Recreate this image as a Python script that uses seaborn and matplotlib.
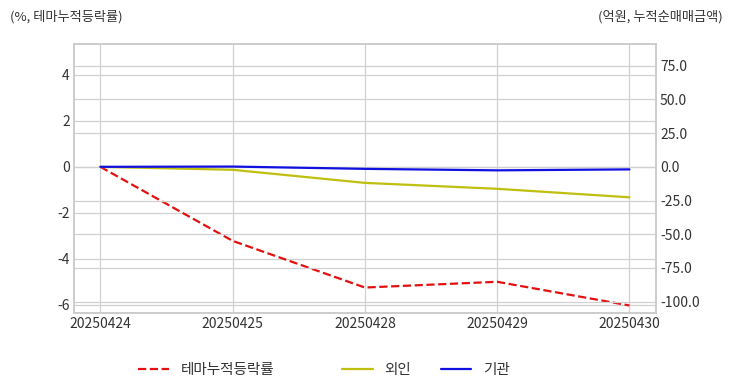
import numpy as np
import pandas as pd
import seaborn as sns
import matplotlib.pyplot as plt
from matplotlib.lines import Line2D

# data
dates = ['20250424', '20250425', '20250428', '20250429', '20250430']
theme_rate = [0.0, -3.22, -5.25, -5.0, -6.03]      # %, 테마누적등락률
foreign_amt = [0.0, -2.2, -11.9, -16.3, -22.6]     # 억원, 외인
inst_amt = [0.0, 0.2, -1.5, -2.6, -1.9]            # 억원, 기관

sns.set_theme(style='whitegrid')
plt.rcParams['font.family'] = ['Noto Sans CJK KR', 'DejaVu Sans']
plt.rcParams['axes.unicode_minus'] = False

GRID = '#d0d0d0'
TXT = '#333333'
RED, YEL, BLU = '#e31010', '#bfbf10', '#1010e0'

fig, ax = plt.subplots(figsize=(7.32, 3.92), dpi=100)
fig.subplots_adjust(left=0.101, right=0.896, top=0.888, bottom=0.202)
ax2 = ax.twinx()

df = pd.DataFrame({'date': dates, 'theme': theme_rate,
                   'foreign': foreign_amt, 'inst': inst_amt})
x = np.arange(len(dates))

sns.lineplot(x=x, y=df['theme'], ax=ax, color=RED, linestyle='--',
             linewidth=1.6, zorder=3)
sns.lineplot(x=x, y=df['foreign'], ax=ax2, color=YEL, linewidth=1.6, zorder=3)
sns.lineplot(x=x, y=df['inst'], ax=ax2, color=BLU, linewidth=1.6, zorder=3)

ax.set_xlim(-0.2, 4.2)
ax.set_ylim(-6.35, 5.35)
ax2.set_ylim(-108.3, 91.2)
ax.set_yticks([4, 2, 0, -2, -4, -6])
rticks = [75, 50, 25, 0, -25, -50, -75, -100]
ax2.set_yticks(rticks)
ax2.set_yticklabels([f'{v:.1f}' for v in rticks])
ax.set_xticks(x)
ax.set_xticklabels(dates)
ax.set_xlabel('')
ax.set_ylabel('')
ax2.set_ylabel('')

for a in (ax, ax2):
    a.set_axisbelow(True)
    a.grid(True, color=GRID, linewidth=0.9)
    a.tick_params(length=0, labelsize=10, labelcolor=TXT, pad=3)
    for s in a.spines.values():
        s.set_color('#cccccc')
        s.set_linewidth(1.2)
ax2.grid(False, axis='x')

fig.text(0.013, 0.957, '(%, 테마누적등락률)', fontsize=9.5, color=TXT, ha='left', va='center')
fig.text(0.987, 0.957, '(억원, 누적순매매금액)', fontsize=9.5, color=TXT, ha='right', va='center')

h1 = [Line2D([], [], color=RED, linestyle='--', linewidth=1.6)]
h2 = [Line2D([], [], color=YEL, linewidth=1.6),
      Line2D([], [], color=BLU, linewidth=1.6)]
leg_kw = dict(loc='center', frameon=False, fontsize=10.5, handlelength=2.1,
              handletextpad=0.8, labelcolor=TXT)
fig.legend(h1, ['테마누적등락률'], bbox_to_anchor=(0.282, 0.057), **leg_kw)
fig.legend(h2, ['외인', '기관'], bbox_to_anchor=(0.582, 0.057), ncol=2,
           columnspacing=2.0, **leg_kw)

plt.savefig('out.png', dpi=100)
